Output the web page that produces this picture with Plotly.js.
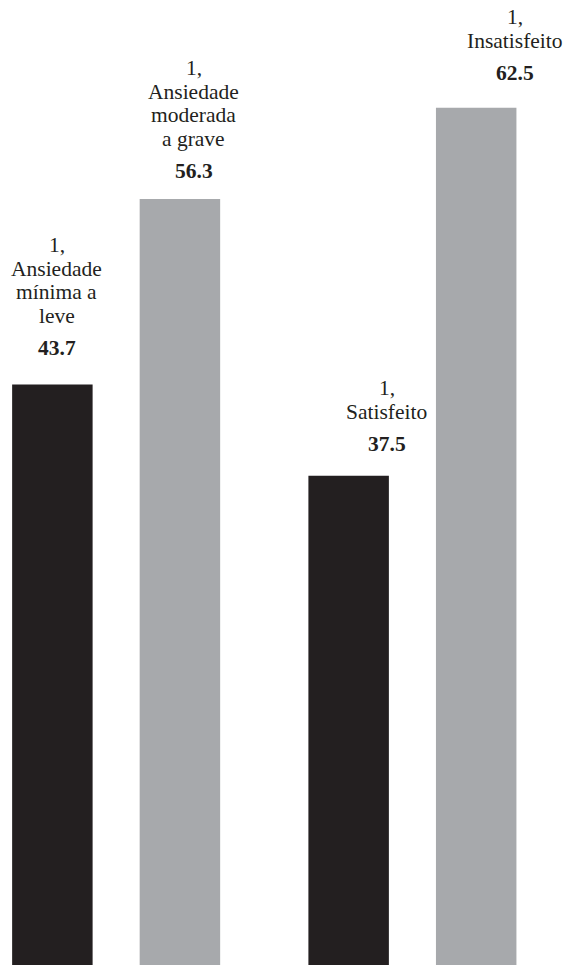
<!DOCTYPE html>
<html>
<head>
<meta charset="utf-8">
<script src="https://cdn.plot.ly/plotly-3.0.1.min.js"></script>
<style>html,body{margin:0;padding:0;background:#fff;}#chart{width:565px;height:965px;}</style>
</head>
<body>
<div id="chart"></div>
<script>
// ---- data ----
const categories = ["Ansiedade", "Satisfação"];
const series1Values = [43.7, 37.5];
const series1Labels = ["1,<br>Ansiedade<br>mínima a<br>leve", "1,<br>Satisfeito"];
const series2Values = [56.3, 62.5];
const series2Labels = ["1,<br>Ansiedade<br>moderada<br>a grave", "1,<br>Insatisfeito"];

// ---- style ----
const colors = ["#231f20", "#a7a9ac"];
const bargap = 0.139;
const bargroupgap = 0.369;
const fontFamily = "Liberation Serif";
const fontSize = 21.5;
const labelXShift = [[4.5, 38], [14, 39]];      // per series, per category (px)
const valueGap = [[36, 31.5], [28, 34.5]];      // px above bar top
const firstLineGap = 32.5, lineStep = 23.5;

const series = [
  {values: series1Values, labels: series1Labels},
  {values: series2Values, labels: series2Labels}
];

const traces = series.map((s, i) => ({
  type: "bar",
  x: categories,
  y: s.values,
  marker: {color: colors[i], line: {width: 0}},
  hoverinfo: "none",
  showlegend: false
}));

const slot = (1 - bargap) / 2;
const annotations = [];
series.forEach((s, si) => {
  s.values.forEach((v, ci) => {
    const xPos = ci + (si === 0 ? -slot / 2 : slot / 2);
    const common = {xref: "x", yref: "y", x: xPos, y: v, showarrow: false,
      xanchor: "center", yanchor: "middle", xshift: labelXShift[si][ci]};
    const g = valueGap[si][ci];
    annotations.push(Object.assign({}, common, {
      text: "<b>" + v.toFixed(1) + "</b>", yshift: g,
      font: {family: fontFamily, size: fontSize, color: "#231f20"}
    }));
    const lines = s.labels[ci].split("<br>");
    lines.forEach((ln, li) => {
      const fromBottom = lines.length - 1 - li;
      annotations.push(Object.assign({}, common, {
        text: ln, yshift: g + firstLineGap + fromBottom * lineStep,
        font: {family: fontFamily, size: fontSize, color: "#231f20"}
      }));
    });
  });
});

const layout = {
  width: 565, height: 965,
  margin: {l: 0, r: 0, t: 0, b: 0},
  paper_bgcolor: "#fff", plot_bgcolor: "#fff",
  barmode: "group", bargap: bargap, bargroupgap: bargroupgap,
  xaxis: {type: "category", range: [-0.392, 1.515], visible: false, fixedrange: true},
  yaxis: {range: [4.26, 69.82], visible: false, showgrid: false, zeroline: false},
  annotations: annotations,
  font: {family: fontFamily}
};

Plotly.newPlot("chart", traces, layout, {displayModeBar: false, staticPlot: true});
</script>
</body>
</html>
